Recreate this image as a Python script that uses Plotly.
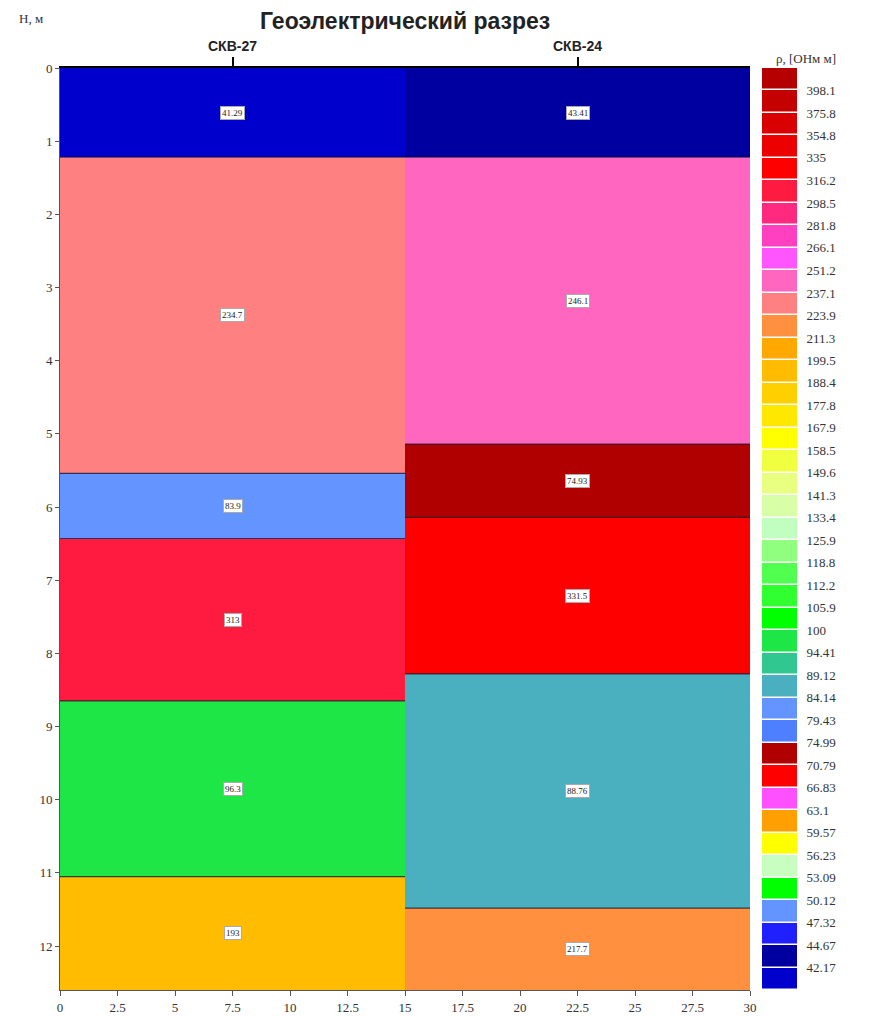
import numpy as np
import plotly.graph_objects as go

# ---------------- data ----------------
wells = ["СКВ-27", "СКВ-24"]
well_center = [7.5, 22.5]
well_left = [0, 15]
well_right = [15, 30]
depth_bottom = 12.6

tops_27 = [0, 1.22, 5.54, 6.43, 8.65, 11.05]
rho_27 = [41.29, 234.7, 83.9, 313, 96.3, 193]
text_27 = ["41.29", "234.7", "83.9", "313", "96.3", "193"]

tops_24 = [0, 1.22, 5.14, 6.14, 8.28, 11.48]
rho_24 = [43.41, 246.1, 74.93, 331.5, 88.76, 217.7]
text_24 = ["43.41", "246.1", "74.93", "331.5", "88.76", "217.7"]

# colour-scale class boundaries (bottom -> top)
scale_values = [42.17, 44.67, 47.32, 50.12, 53.09, 56.23, 59.57, 63.1, 66.83, 70.79,
                74.99, 79.43, 84.14, 89.12, 94.41, 100, 105.9, 112.2, 118.8, 125.9,
                133.4, 141.3, 149.6, 158.5, 167.9, 177.8, 188.4, 199.5, 211.3, 223.9,
                237.1, 251.2, 266.1, 281.8, 298.5, 316.2, 335, 354.8, 375.8, 398.1]
scale_labels = ["42.17", "44.67", "47.32", "50.12", "53.09", "56.23", "59.57", "63.1", "66.83", "70.79",
                "74.99", "79.43", "84.14", "89.12", "94.41", "100", "105.9", "112.2", "118.8", "125.9",
                "133.4", "141.3", "149.6", "158.5", "167.9", "177.8", "188.4", "199.5", "211.3", "223.9",
                "237.1", "251.2", "266.1", "281.8", "298.5", "316.2", "335", "354.8", "375.8", "398.1"]
# 41 class colours (bottom -> top)
scale_colors = ["#0000cd", "#0000a0", "#2020ff", "#6494ff", "#00ff00", "#c8ffc0", "#ffff00",
                "#ffa000", "#ff50ff", "#ff0000", "#b00000", "#4d7fff", "#6494ff", "#4ab0c0",
                "#30c890", "#1ee646", "#00ff00", "#30ff30", "#50ff50", "#90ff80", "#c0ffc0",
                "#d8ffa8", "#e8ff80", "#f0ff40", "#ffff00", "#ffe800", "#ffd000", "#ffbc00",
                "#ffa800", "#ff9040", "#ff8080", "#ff66c0", "#ff55ff", "#ff40c0", "#ff2a80",
                "#ff1a40", "#ff0000", "#ec0000", "#d80000", "#c40000", "#b40000"]

# ---------------- colour scale ----------------
log_b = np.log10(scale_values)
step = 0.025
edges = np.concatenate([[log_b[0] - step], log_b, [log_b[-1] + step]])
zmin, zmax = edges[0], edges[-1]
frac = (edges - zmin) / (zmax - zmin)
frac[0], frac[-1] = 0.0, 1.0
colorscale = []
for i, c in enumerate(scale_colors):
    colorscale.append([float(frac[i]), c])
    colorscale.append([float(frac[i + 1]), c])

SERIF = "Liberation Serif"
SANS = "Liberation Sans"

fig = go.Figure()

columns = [(tops_27, rho_27, text_27), (tops_24, rho_24, text_24)]
annotations = []
for k, (tops, rho, txt) in enumerate(columns):
    yedges = list(tops) + [depth_bottom]
    fig.add_trace(go.Heatmap(
        x=[well_left[k], well_right[k]], y=yedges,
        z=[[np.log10(r)] for r in rho],
        colorscale=colorscale, zmin=zmin, zmax=zmax, showscale=False,
        xaxis="x", yaxis="y", hoverinfo="skip"))
    # layer boundary lines
    lx, ly = [], []
    for t in tops[1:]:
        lx += [well_left[k], well_right[k], None]
        ly += [t, t, None]
    fig.add_trace(go.Scatter(x=lx, y=ly, mode="lines",
                             line=dict(color="rgba(20,20,40,0.75)", width=1.2),
                             xaxis="x", yaxis="y", hoverinfo="skip", showlegend=False))
    for i, t in enumerate(txt):
        mid = (yedges[i] + yedges[i + 1]) / 2
        annotations.append(dict(x=well_center[k], y=mid, xref="x", yref="y", text=t,
                                showarrow=False, bgcolor="white", bordercolor="#aaaaaa",
                                borderwidth=1, borderpad=1,
                                font=dict(family=SERIF, size=9, color="#222")))

# invisible trace for top axis
fig.add_trace(go.Scatter(x=well_center, y=[0, 0], mode="markers", marker=dict(opacity=0),
                         xaxis="x2", yaxis="y", hoverinfo="skip", showlegend=False))

# colour legend as its own heatmap
mids = (edges[:-1] + edges[1:]) / 2
fig.add_trace(go.Heatmap(x=[0, 1], y=edges, z=[[m] for m in mids],
                         colorscale=colorscale, zmin=zmin, zmax=zmax, showscale=False,
                         ygap=1.5, xaxis="x3", yaxis="y3", hoverinfo="skip"))

tick_font = dict(family=SERIF, size=13, color="#333")
W, H = 869, 1016
ml, mr, mt, mb = 60, 20, 68, 26
pw = W - ml - mr
ph = H - mt - mb
main_right = (750 - ml) / pw
leg_l = (762 - ml) / pw
leg_r = (797 - ml) / pw


def px(xp):
    return (xp - ml) / pw


def py(yp):
    return 1 - (yp - mt) / ph


fig.update_layout(
    width=W, height=H, margin=dict(l=ml, r=mr, t=mt, b=mb, autoexpand=False),
    paper_bgcolor="white", plot_bgcolor="white", showlegend=False,
    xaxis=dict(domain=[0, main_right], range=[0, 30], tickvals=list(np.arange(0, 30.1, 2.5)),
               ticktext=["0", "2.5", "5", "7.5", "10", "12.5", "15", "17.5", "20", "22.5", "25", "27.5", "30"],
               ticks="outside", ticklen=5, tickcolor="#555", showline=True, linecolor="#555",
               linewidth=1, showgrid=False, zeroline=False, tickfont=tick_font, automargin=False),
    xaxis2=dict(domain=[0, main_right], range=[0, 30], overlaying="x", side="top",
                tickvals=well_center, ticktext=["<b>%s</b>" % w for w in wells], ticks="outside",
                ticklen=9, tickwidth=2,
                tickcolor="black", showline=True, linecolor="black", linewidth=2,
                showgrid=False, zeroline=False, anchor="y", automargin=False,
                tickfont=dict(family=SANS, size=14, color="#222")),
    yaxis=dict(domain=[0, 1], range=[depth_bottom, 0], tickvals=list(range(0, 13)),
               ticks="outside", ticklen=4, tickcolor="#555", showline=True, linecolor="#555",
               linewidth=1, showgrid=False, zeroline=False, tickfont=tick_font, automargin=False),
    xaxis3=dict(domain=[leg_l, leg_r], range=[0, 1], visible=False, anchor="y3"),
    yaxis3=dict(domain=[0, 1], range=[zmin, zmax], anchor="x3", side="right",
                tickvals=list(log_b), ticktext=scale_labels, ticks="outside", ticklen=6,
                tickcolor="rgba(0,0,0,0)", showgrid=False, automargin=False,
                zeroline=False, showline=False, tickfont=tick_font),
    annotations=annotations + [
        dict(text="<b>Геоэлектрический разрез</b>", x=px(405), y=py(21), xref="paper",
             yref="paper", xanchor="center", yanchor="middle",
             showarrow=False, font=dict(family=SANS, size=23, color="#222")),
        dict(text="Н, м", x=px(31), y=py(18), xref="paper", yref="paper",
             xanchor="center", yanchor="middle",
             showarrow=False, font=dict(family=SERIF, size=13, color="#333")),
        dict(text="ρ, [ОНм м]", x=px(806), y=py(59), xref="paper", yref="paper",
             xanchor="center", yanchor="middle",
             showarrow=False, font=dict(family=SERIF, size=13, color="#333")),
    ],
)

fig.write_html("out.html")
